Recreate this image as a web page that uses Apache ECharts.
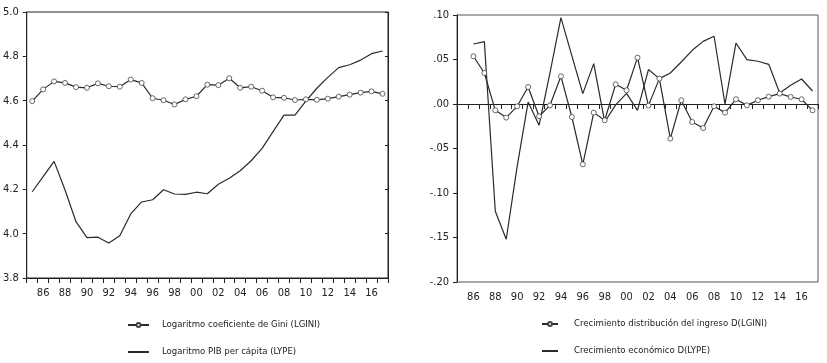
<!DOCTYPE html>
<html>
<head>
<meta charset="utf-8">
<script src="https://cdn.jsdelivr.net/npm/echarts@6/dist/echarts.min.js"></script>
<style>
  html, body { margin: 0; padding: 0; background: #fff; }
  #chart { width: 827px; height: 363px; }
</style>
</head>
<body>
<div id="chart"></div>
<script>
const years = ['1985', '1986', '1987', '1988', '1989', '1990', '1991', '1992', '1993', '1994', '1995',
  '1996', '1997', '1998', '1999', '2000', '2001', '2002', '2003', '2004', '2005', '2006',
  '2007', '2008', '2009', '2010', '2011', '2012', '2013', '2014', '2015', '2016', '2017'];

// niveles (panel izquierdo)
const lgini = [4.598, 4.651, 4.687, 4.680, 4.661, 4.658, 4.678, 4.665, 4.663, 4.695, 4.680,
  4.611, 4.602, 4.583, 4.606, 4.620, 4.672, 4.670, 4.701, 4.658, 4.663, 4.645,
  4.615, 4.613, 4.603, 4.606, 4.604, 4.609, 4.618, 4.627, 4.636, 4.642, 4.631];
const lype = [4.189, 4.257, 4.326, 4.197, 4.054, 3.982, 3.984, 3.958, 3.991, 4.089, 4.143,
  4.153, 4.198, 4.179, 4.177, 4.187, 4.180, 4.223, 4.250, 4.284, 4.329, 4.385,
  4.460, 4.535, 4.535, 4.598, 4.656, 4.705, 4.749, 4.762, 4.783, 4.812, 4.824];

// primeras diferencias (panel derecho)
const dlgini = [null, 0.0536, 0.0348, -0.0071, -0.0153, -0.0026, 0.0191, -0.0138, -0.0015, 0.0311,
  -0.0146, -0.0678, -0.0097, -0.0183, 0.0221, 0.0154, 0.0521, -0.0018, 0.0285, -0.0389, 0.0042,
  -0.0202, -0.0270, -0.0026, -0.0097, 0.0053, -0.0015, 0.0042, 0.0083, 0.0117, 0.0079, 0.0053, -0.0071];
const dlype = [null, 0.0674, 0.0701, -0.1206, -0.152, -0.070, 0.0022, -0.0239, 0.035, 0.0971,
  0.054, 0.0117, 0.0454, -0.0202, -0.001, 0.012, -0.0071, 0.0387, 0.0285, 0.0348, 0.0472,
  0.0603, 0.0704, 0.0761, -0.0003, 0.0685, 0.0499, 0.048, 0.0446, 0.0124, 0.021, 0.0281, 0.0146];

const names = {
  lgini: 'Logaritmo coeficiente de Gini (LGINI)',
  lype: 'Logaritmo PIB per cápita (LYPE)',
  dlgini: 'Crecimiento distribución del ingreso D(LGINI)',
  dlype: 'Crecimiento económico D(LYPE)'
};

const font = '"Liberation Sans Narrow", "DejaVu Sans Condensed", sans-serif';
const ink = '#222';

const xAxisBase = (gridIndex) => ({
  type: 'category',
  gridIndex,
  data: years,
  boundaryGap: true,
  axisLine: {lineStyle: {color: ink, width: 1}},
  axisTick: {show: true, interval: 0, length: 5, lineStyle: {color: ink}},
  axisLabel: {
    interval: (idx) => idx % 2 === 1,
    formatter: (v) => v.slice(2),
    color: ink,
    fontFamily: font,
    fontSize: 11,
    margin: 10
  },
  splitLine: {show: false}
});

// circulos blancos con borde fino, como en el original
const lineSeries = (name, data, x, y, withDots) => ({
  name,
  type: 'line',
  xAxisIndex: x,
  yAxisIndex: y,
  data,
  symbol: withDots ? 'circle' : 'none',
  symbolSize: 5,
  showSymbol: withDots,
  lineStyle: {color: '#2a2a2a', width: 1.2},
  itemStyle: {color: '#fff', borderColor: '#444', borderWidth: 0.8},
  connectNulls: false,
  animation: false
});

const legendBase = {
  orient: 'vertical',
  padding: 0,
  itemHeight: 5,
  itemGap: 15,
  textStyle: {fontFamily: font, fontSize: 9.5, color: ink, lineHeight: 12}
};

const chart = echarts.init(document.getElementById('chart'));
chart.setOption({
  animation: false,
  grid: [
    {left: 26, right: 439, top: 12, bottom: 85, show: true, borderColor: ink, borderWidth: 1},
    {left: 457, right: 9, top: 15, bottom: 81, show: true, borderColor: '#555', borderWidth: 1}
  ],
  legend: [
    {
      ...legendBase,
      data: [names.lgini, {name: names.lype, itemStyle: {opacity: 0}}],
      left: 127,
      top: 319,
      itemWidth: 21,
      textStyle: {...legendBase.textStyle, padding: [0, 0, 0, 8]}
    },
    {
      ...legendBase,
      data: [names.dlgini, {name: names.dlype, itemStyle: {opacity: 0}}],
      left: 541,
      top: 318,
      itemWidth: 16,
      textStyle: {...legendBase.textStyle, padding: [0, 0, 0, 11]}
    }
  ],
  xAxis: [xAxisBase(0), xAxisBase(1)],
  yAxis: [
    {
      type: 'value',
      gridIndex: 0,
      min: 3.8,
      max: 5.0,
      interval: 0.2,
      axisLine: {show: true, lineStyle: {color: ink}},
      axisTick: {show: true, length: 4, lineStyle: {color: ink}},
      axisLabel: {formatter: (v) => v.toFixed(1), color: ink, fontFamily: font, fontSize: 11, margin: 8},
      splitLine: {show: false}
    },
    {
      type: 'value',
      gridIndex: 0,
      position: 'right',
      min: 3.8,
      max: 5.0,
      interval: 0.2,
      axisLine: {show: true, lineStyle: {color: ink}},
      axisTick: {show: true, inside: true, length: 3, lineStyle: {color: ink}},
      axisLabel: {show: false},
      splitLine: {show: false}
    },
    {
      type: 'value',
      gridIndex: 1,
      min: -0.2,
      max: 0.1,
      interval: 0.05,
      axisLine: {show: true, lineStyle: {color: ink}},
      axisTick: {show: true, length: 4, lineStyle: {color: ink}},
      axisLabel: {
        formatter: (v) => {
          const r = Math.round(v * 100) / 100;
          return (r < 0 ? '-' : '') + Math.abs(r).toFixed(2).slice(1);
        },
        color: ink,
        fontFamily: font,
        fontSize: 11,
        margin: 8
      },
      splitLine: {show: false}
    }
  ],
  series: [
    lineSeries(names.lgini, lgini, 0, 0, true),
    lineSeries(names.lype, lype, 0, 0, false),
    lineSeries(names.dlgini, dlgini, 1, 2, true),
    lineSeries(names.dlype, dlype, 1, 2, false)
  ]
});
</script>
</body>
</html>
